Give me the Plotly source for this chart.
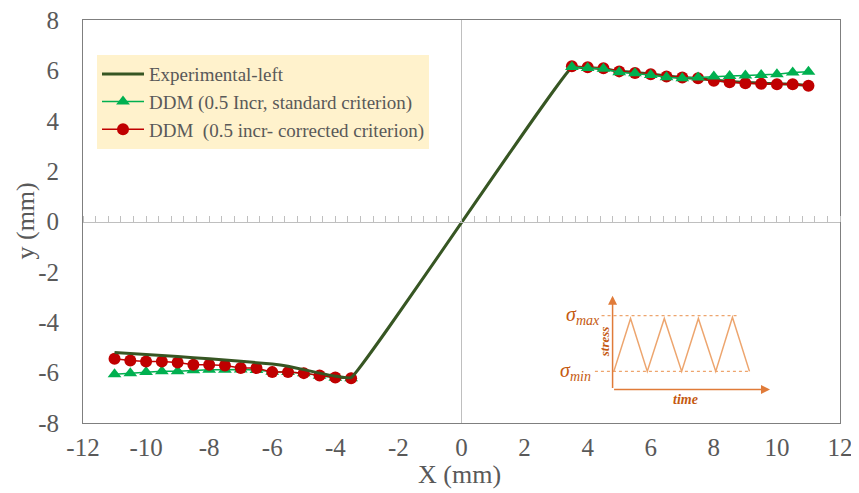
import plotly.graph_objects as go

# ---------------- data ----------------
x_left = [-11.0, -10.5, -10.0, -9.5, -9.0, -8.5, -8.0, -7.5,
          -7.0, -6.5, -6.0, -5.5, -5.0, -4.5, -4.0, -3.5]
x_right = [3.5, 4.0, 4.5, 5.0, 5.5, 6.0, 6.5, 7.0,
           7.5, 8.0, 8.5, 9.0, 9.5, 10.0, 10.5, 11.0]

green_left = [-6.06, -6.02, -5.98, -5.95, -5.95, -5.91, -5.89, -5.89,
              -5.88, -5.90, -5.97, -5.98, -6.02, -6.12, -6.20, -6.22]
red_left = [-5.45, -5.52, -5.56, -5.56, -5.60, -5.69, -5.69, -5.72,
            -5.82, -5.82, -5.98, -5.98, -6.02, -6.11, -6.19, -6.22]

green_right = [6.13, 6.09, 6.06, 5.93, 5.89, 5.82, 5.73, 5.69,
               5.72, 5.76, 5.78, 5.80, 5.82, 5.85, 5.92, 5.95]
red_right = [6.16, 6.12, 6.08, 5.96, 5.90, 5.85, 5.76, 5.72,
             5.69, 5.59, 5.53, 5.49, 5.47, 5.45, 5.45, 5.39]

exp_x = [-11.0, -10.0, -9.0, -8.0, -7.0, -6.0, -5.5, -5.0, -4.5, -4.0, -3.5,
         3.5, 4.0, 4.5, 5.0, 5.5, 6.0, 6.5, 7.0, 7.5, 8.0, 8.5, 9.0, 9.5, 10.0, 10.5, 11.0]
exp_y = [-5.20, -5.28, -5.36, -5.45, -5.55, -5.66, -5.75, -5.88, -6.02, -6.14, -6.20,
         6.12, 6.10, 6.06, 5.97, 5.92, 5.86, 5.78, 5.72, 5.68, 5.62, 5.56, 5.52, 5.49, 5.47, 5.45, 5.40]

x_ticks = [-12, -10, -8, -6, -4, -2, 0, 2, 4, 6, 8, 10, 12]
y_ticks = [-8, -6, -4, -2, 0, 2, 4, 6, 8]

# inset schematic (stress vs time), in data coordinates
wave_x = [4.83, 5.36, 5.89, 6.43, 6.98, 7.51, 8.06, 8.59, 9.13]
wave_y = [-5.95, -3.85, -5.95, -3.85, -5.95, -3.85, -5.95, -3.80, -5.95]

# ---------------- styles ----------------
FONT = "Liberation Serif"
GRAY_TXT = "#595959"
C_EXP = "#375623"
C_GREEN = "#00B050"
C_RED = "#C00000"
C_INSET_LINE = "#EDA56E"
C_INSET_AXIS = "#E07B39"
C_INSET_TXT = "#C55A11"

fig = go.Figure()

# left parts (green under red)
fig.add_trace(go.Scatter(x=x_left, y=green_left, mode="lines+markers",
                         line=dict(color=C_GREEN, width=1.5),
                         marker=dict(symbol="triangle-up", size=12, color=C_GREEN),
                         legendgroup="g", showlegend=False, hoverinfo="skip"))
fig.add_trace(go.Scatter(x=x_left, y=red_left, mode="lines+markers",
                         line=dict(color=C_RED, width=1.5),
                         marker=dict(symbol="circle", size=12, color=C_RED),
                         legendgroup="r", showlegend=False, hoverinfo="skip"))
# experimental
fig.add_trace(go.Scatter(x=exp_x, y=exp_y, mode="lines",
                         line=dict(color=C_EXP, width=3, shape="spline", smoothing=0.3),
                         name="Experimental-left", legendrank=1))
# right parts (red under green)
fig.add_trace(go.Scatter(x=x_right, y=red_right, mode="lines+markers",
                         line=dict(color=C_RED, width=1.5),
                         marker=dict(symbol="circle", size=12, color=C_RED),
                         name="DDM\u00a0 (0.5 incr- corrected criterion)",
                         legendgroup="r", legendrank=3))
fig.add_trace(go.Scatter(x=x_right, y=green_right, mode="lines+markers",
                         line=dict(color=C_GREEN, width=1.5),
                         marker=dict(symbol="triangle-up", size=12, color=C_GREEN),
                         name="DDM (0.5 Incr, standard criterion)",
                         legendgroup="g", legendrank=2))

# invisible trace to activate the axis crossing at y=0 (minor ticks)
fig.add_trace(go.Scatter(x=[None], y=[None], xaxis="x2", yaxis="y",
                         showlegend=False, hoverinfo="skip"))

# ---------------- inset drawing ----------------
wave_path = "M " + " L ".join(f"{a},{b}" for a, b in zip(wave_x, wave_y))
shapes = [
    dict(type="path", path=wave_path, xref="x", yref="y",
         line=dict(color=C_INSET_LINE, width=1.5)),
    dict(type="line", xref="x", yref="y", x0=4.44, x1=8.73, y0=-3.74, y1=-3.74,
         line=dict(color=C_INSET_LINE, width=1.2, dash="dot")),
    dict(type="line", xref="x", yref="y", x0=4.23, x1=9.15, y0=-5.95, y1=-5.95,
         line=dict(color=C_INSET_LINE, width=1.2, dash="dot")),
]
annotations = [
    # vertical axis arrow
    dict(x=4.79, y=-2.95, ax=4.79, ay=-6.67, xref="x", yref="y", axref="x", ayref="y",
         showarrow=True, arrowhead=2, arrowsize=1.2, arrowwidth=1.5,
         arrowcolor=C_INSET_AXIS, text=""),
    # horizontal axis arrow
    dict(x=9.78, y=-6.67, ax=4.79, ay=-6.67, xref="x", yref="y", axref="x", ayref="y",
         showarrow=True, arrowhead=2, arrowsize=1.2, arrowwidth=1.5,
         arrowcolor=C_INSET_AXIS, text=""),
    dict(x=4.44, y=-3.74, xref="x", yref="y", xanchor="right", yanchor="middle",
         text="<i>σ<sub>max</sub></i>", showarrow=False,
         font=dict(family=FONT, size=20, color=C_INSET_TXT)),
    dict(x=4.18, y=-5.95, xref="x", yref="y", xanchor="right", yanchor="middle",
         text="<i>σ<sub>min</sub></i>", showarrow=False,
         font=dict(family=FONT, size=20, color=C_INSET_TXT)),
    dict(x=4.56, y=-4.78, xref="x", yref="y", textangle=-90,
         text="<b><i>stress</i></b>", showarrow=False,
         font=dict(family=FONT, size=13, color=C_INSET_TXT)),
    dict(x=7.09, y=-7.05, xref="x", yref="y",
         text="<b><i>time</i></b>", showarrow=False,
         font=dict(family=FONT, size=14, color=C_INSET_TXT)),
    # axis titles
    dict(x=0.498, y=-0.128, xref="paper", yref="paper", xanchor="center", yanchor="middle",
         text="X (mm)", showarrow=False,
         font=dict(family=FONT, size=26, color=GRAY_TXT)),
    dict(x=-0.0766, y=0.5, xref="paper", yref="paper", xanchor="center", yanchor="middle",
         text="y (mm)", textangle=-90, showarrow=False,
         font=dict(family=FONT, size=26, color=GRAY_TXT)),
]

# page body has an 8px margin: place the plot area where the reference has it
fig.update_layout(
    width=859, height=493,
    margin=dict(l=75, r=27, t=12, b=78, autoexpand=False),
    paper_bgcolor="white", plot_bgcolor="white",
    font=dict(family=FONT, color=GRAY_TXT),
    showlegend=True,
    legend=dict(x=0.0185, y=0.913, xanchor="left", yanchor="top",
                bgcolor="#FFF2CC", borderwidth=0,
                font=dict(family=FONT, size=19, color=GRAY_TXT),
                itemwidth=42, tracegroupgap=0),
    xaxis=dict(range=[-12, 12], tickvals=x_ticks, ticktext=[str(v) for v in x_ticks],
               showgrid=False, zeroline=True, zerolinecolor="#BFBFBF", zerolinewidth=1,
               showline=True, mirror=True, linecolor="#7F7F7F", linewidth=1,
               ticks="", ticklabelstandoff=2, automargin=False, ticklabeloverflow="allow",
               tickfont=dict(family=FONT, size=25, color=GRAY_TXT)),
    xaxis2=dict(range=[-12, 12], overlaying="x", anchor="free", position=0.5, side="top",
                showgrid=False, zeroline=False, showline=True, linecolor="#BFBFBF",
                linewidth=1, ticks="outside", ticklen=6, tickcolor="#BFBFBF",
                tick0=0, dtick=0.4, showticklabels=False, automargin=False),
    yaxis=dict(range=[-8, 8], tickvals=y_ticks, ticktext=[str(v) for v in y_ticks],
               showgrid=False, zeroline=False,
               showline=True, mirror=True, linecolor="#7F7F7F", linewidth=1,
               ticks="", ticklabelstandoff=18, automargin=False, ticklabeloverflow="allow",
               tickfont=dict(family=FONT, size=25, color=GRAY_TXT)),
    shapes=shapes,
    annotations=annotations,
)

fig.write_html("out.html")
